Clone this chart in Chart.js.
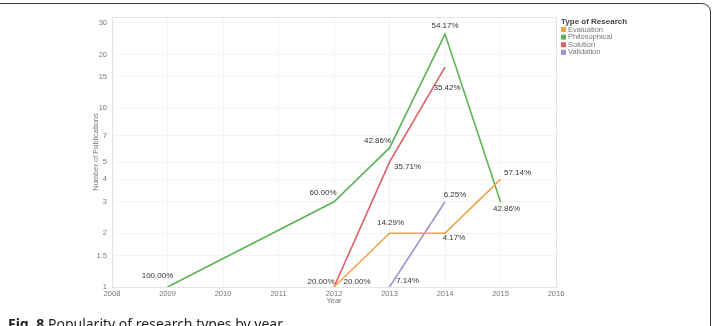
<!DOCTYPE html>
<html lang="en">
<head>
<meta charset="UTF-8">
<title>Popularity of research types by year</title>
<script src="https://cdn.jsdelivr.net/npm/chart.js"></script>
<style>
    body {
        margin: 0;
        width: 715px;
        height: 326px;
        overflow: hidden;
        background: #fff;
        position: relative;
        font-family: "Liberation Sans", Arial, sans-serif;
    }
    .frame {
        position: absolute;
        left: -20px;
        top: 3px;
        width: 731px;
        height: 400px;
        border-top: 1.5px solid #3a3a3a;
        border-right: 1.5px solid #3a3a3a;
        border-top-right-radius: 9px;
        box-sizing: border-box;
    }
    .chart-box {
        position: absolute;
        left: 0;
        top: 0;
        width: 715px;
        height: 326px;
    }
    .caption {
        position: absolute;
        left: 8px;
        top: 314px;
        font-family: "Noto Sans", sans-serif;
        font-size: 14px;
        color: #222;
        white-space: nowrap;
    }
</style>
</head>
<body>
<div class="frame"></div>
<div class="chart-box"><canvas id="chart"></canvas></div>
<div class="caption"><b>Fig. 8</b> Popularity of research types by year</div>

<script>
    // values (log scale)
    const seriesNames = ['Evaluation', 'Philosophical', 'Solution', 'Validation'];
    const seriesColors = ['#f5a24b', '#5cb356', '#e05f66', '#9f92d2'];

    const evaluationYears = [2012, 2013, 2014, 2015];
    const evaluationValues = [1, 2, 2, 4];
    const evaluationPct = ['20.00%', '14.29%', '4.17%', '57.14%'];

    const philosophicalYears = [2009, 2012, 2013, 2014, 2015];
    const philosophicalValues = [1, 3, 6, 26, 3];
    const philosophicalPct = ['100.00%', '60.00%', '42.86%', '54.17%', '42.86%'];

    const solutionYears = [2012, 2013, 2014];
    const solutionValues = [1, 5, 17];
    const solutionPct = ['20.00%', '35.71%', '35.42%'];

    const validationYears = [2013, 2014];
    const validationValues = [1, 3];
    const validationPct = ['7.14%', '6.25%'];

    const yTicks = [1, 1.5, 2, 3, 4, 5, 7, 10, 15, 20, 30];
    const xMin = 2008, xMax = 2016;

    // label offsets from each point (px)
    const labelOffsets = [
        [[23, -5], [1, -10], [9, 5], [17, -7]],
        [[-10, -11], [-11, -9], [-12, -7], [0, -8], [6, 7]],
        [[-13, -5], [18, 5], [2, 21]],
        [[18, -6], [10, -7]]
    ];

    function pts(years, values) {
        return years.map((y, i) => ({ x: y, y: values[i] }));
    }

    const allPct = [evaluationPct, philosophicalPct, solutionPct, validationPct];
    const allData = [
        pts(evaluationYears, evaluationValues),
        pts(philosophicalYears, philosophicalValues),
        pts(solutionYears, solutionValues),
        pts(validationYears, validationValues)
    ];

    const FONT = '"Liberation Sans", Arial, sans-serif';

    const plotFrame = {
        id: 'plotFrame',
        beforeDatasetsDraw(chart) {
            const { ctx, chartArea: a } = chart;
            ctx.save();
            ctx.strokeStyle = '#e4e4e4';
            ctx.lineWidth = 1;
            ctx.strokeRect(a.left + 0.5, a.top + 0.5, a.right - a.left, a.bottom - a.top);
            ctx.restore();
        }
    };

    const pctLabels = {
        id: 'pctLabels',
        afterDatasetsDraw(chart) {
            const ctx = chart.ctx;
            ctx.save();
            ctx.font = '8px ' + FONT;
            ctx.fillStyle = '#333';
            ctx.textAlign = 'center';
            ctx.textBaseline = 'middle';
            chart.data.datasets.forEach((ds, di) => {
                const meta = chart.getDatasetMeta(di);
                meta.data.forEach((p, i) => {
                    const off = labelOffsets[di][i];
                    ctx.fillText(allPct[di][i], p.x + off[0], p.y + off[1]);
                });
            });
            ctx.restore();
        }
    };

    const sideLegend = {
        id: 'sideLegend',
        afterDraw(chart) {
            const ctx = chart.ctx;
            const x = chart.chartArea.right + 5;
            ctx.save();
            ctx.textBaseline = 'middle';
            ctx.textAlign = 'left';
            ctx.font = 'bold 8px ' + FONT;
            ctx.fillStyle = '#444';
            ctx.fillText('Type of Research', x, 22);
            ctx.font = '7.5px ' + FONT;
            chart.data.datasets.forEach((ds, i) => {
                const y = 29.5 + i * 7.6;
                ctx.fillStyle = ds.borderColor;
                ctx.fillRect(x, y - 2.5, 5, 5);
                ctx.fillStyle = '#777';
                ctx.fillText(ds.label, x + 7, y);
            });
            ctx.restore();
        }
    };

    new Chart(document.getElementById('chart').getContext('2d'), {
        type: 'line',
        data: {
            datasets: seriesNames.map((name, i) => ({
                label: name,
                data: allData[i],
                borderColor: seriesColors[i],
                backgroundColor: seriesColors[i],
                borderWidth: 1.6,
                pointRadius: 0,
                tension: 0
            }))
        },
        options: {
            responsive: true,
            maintainAspectRatio: false,
            animation: false,
            layout: { padding: { top: 17, right: 159, bottom: 17, left: 87 } },
            plugins: {
                legend: { display: false },
                tooltip: { enabled: false }
            },
            scales: {
                x: {
                    type: 'linear',
                    min: xMin,
                    max: xMax,
                    afterFit(s) { s.height = 22; },
                    afterBuildTicks(s) {
                        const t = [];
                        for (let v = xMin; v <= xMax; v++) t.push({ value: v });
                        s.ticks = t;
                    },
                    ticks: {
                        callback: v => String(v),
                        font: { family: FONT, size: 7.5 },
                        color: '#777',
                        padding: 2,
                        maxRotation: 0
                    },
                    grid: { color: '#f4f4f4', drawTicks: false },
                    border: { display: false },
                    title: {
                        display: true,
                        text: 'Year',
                        font: { family: FONT, size: 7.5 },
                        color: '#777',
                        padding: { top: 0, bottom: 4 }
                    }
                },
                y: {
                    type: 'logarithmic',
                    min: 1,
                    max: 32.4,
                    afterFit(s) { s.width = 25; },
                    afterBuildTicks(s) {
                        s.ticks = yTicks.map(v => ({ value: v }));
                    },
                    ticks: {
                        callback: v => String(v),
                        font: { family: FONT, size: 7.5 },
                        color: '#777',
                        padding: 5
                    },
                    grid: { color: '#f4f4f4', drawTicks: false },
                    border: { display: false },
                    title: {
                        display: true,
                        text: 'Number of Publications',
                        font: { family: FONT, size: 7.5 },
                        color: '#777',
                        padding: { top: 4, bottom: 0 }
                    }
                }
            }
        },
        plugins: [plotFrame, pctLabels, sideLegend]
    });
</script>
</body>
</html>
